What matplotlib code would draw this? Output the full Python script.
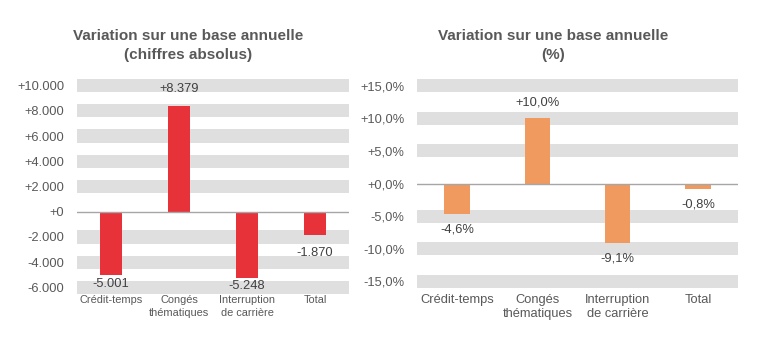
import matplotlib
matplotlib.use("Agg")
import matplotlib.pyplot as plt
import numpy as np

plt.rcParams['font.family'] = ['Liberation Sans', 'DejaVu Sans']

categories = ["Crédit-temps", "Congés\nthématiques", "Interruption\nde carrière", "Total"]
abs_values = [-5001, 8379, -5248, -1870]
abs_labels = ["-5.001", "+8.379", "-5.248", "-1.870"]
pct_values = [-4.6, 10.0, -9.1, -0.8]
pct_labels = ["-4,6%", "+10,0%", "-9,1%", "-0,8%"]
abs_ticks = [-6000, -4000, -2000, 0, 2000, 4000, 6000, 8000, 10000]
abs_ticklabels = ["-6.000", "-4.000", "-2.000", "+0", "+2.000", "+4.000", "+6.000", "+8.000", "+10.000"]
pct_ticks = [-15, -10, -5, 0, 5, 10, 15]
pct_ticklabels = ["-15,0%", "-10,0%", "-5,0%", "+0,0%", "+5,0%", "+10,0%", "+15,0%"]

TXT = "#595959"
LBL = "#404040"
BAND = "#DFDFDF"

fig = plt.figure(figsize=(7.77, 3.49), dpi=100)


def setup(ax, ticks, ticklabels, ylim, band_half, cat_size, cat_spacing, cat_pad):
    ax.set_ylim(*ylim)
    ax.set_xlim(-0.5, len(categories) - 0.5)
    for t in ticks:
        if t != 0:
            ax.axhspan(t - band_half, t + band_half, color=BAND, lw=0, zorder=0)
    ax.axhline(0, color="#A6A6A6", lw=1.0, zorder=3)
    ax.set_yticks(ticks)
    ax.set_yticklabels(ticklabels, fontsize=9.3, color=TXT)
    ax.set_xticks(range(len(categories)))
    ax.set_xticklabels(categories, fontsize=cat_size, color=TXT, linespacing=cat_spacing)
    ax.tick_params(axis="both", length=0)
    ax.tick_params(axis="y", pad=9)
    ax.tick_params(axis="x", pad=cat_pad)
    for s in ax.spines.values():
        s.set_visible(False)


# Absolute figures
ax1 = fig.add_axes([77 / 777, 1 - 294 / 349, 272 / 777, 215 / 349])
setup(ax1, abs_ticks, abs_ticklabels, (-6520, 10520), 520, 7.9, 1.3, 1)
x = np.arange(len(categories))
ax1.bar(x, abs_values, width=0.32, color="#E8323A", zorder=2)
abs_offsets = [-6.5, 12, -6, -13]  # points from the bar end
for xi, v, lab, off in zip(x, abs_values, abs_labels, abs_offsets):
    ax1.annotate(lab, (xi, v), xytext=(0, off), textcoords="offset points",
                 ha="center", va="center", fontsize=9.3, color=LBL, zorder=4)

# Percentages
ax2 = fig.add_axes([417 / 777, 1 - 288 / 349, 321 / 777, 209 / 349])
setup(ax2, pct_ticks, pct_ticklabels, (-16, 16), 0.98, 9.3, 1.25, 4)
ax2.bar(x, pct_values, width=0.32, color="#F09A5F", zorder=2)
for xi, v, lab in zip(x, pct_values, pct_labels):
    off = 11.5 if v > 0 else -11.5
    ax2.annotate(lab, (xi, v), xytext=(0, off), textcoords="offset points",
                 ha="center", va="center", fontsize=9.3, color=LBL, zorder=4)

fig.text(188 / 777, 1 - 45.5 / 349, "Variation sur une base annuelle\n(chiffres absolus)",
         ha="center", va="center", fontsize=11, fontweight="bold", color=TXT, linespacing=1.45)
fig.text(553 / 777, 1 - 45.5 / 349, "Variation sur une base annuelle\n(%)",
         ha="center", va="center", fontsize=11, fontweight="bold", color=TXT, linespacing=1.45)

fig.savefig("out.png", dpi=100)
